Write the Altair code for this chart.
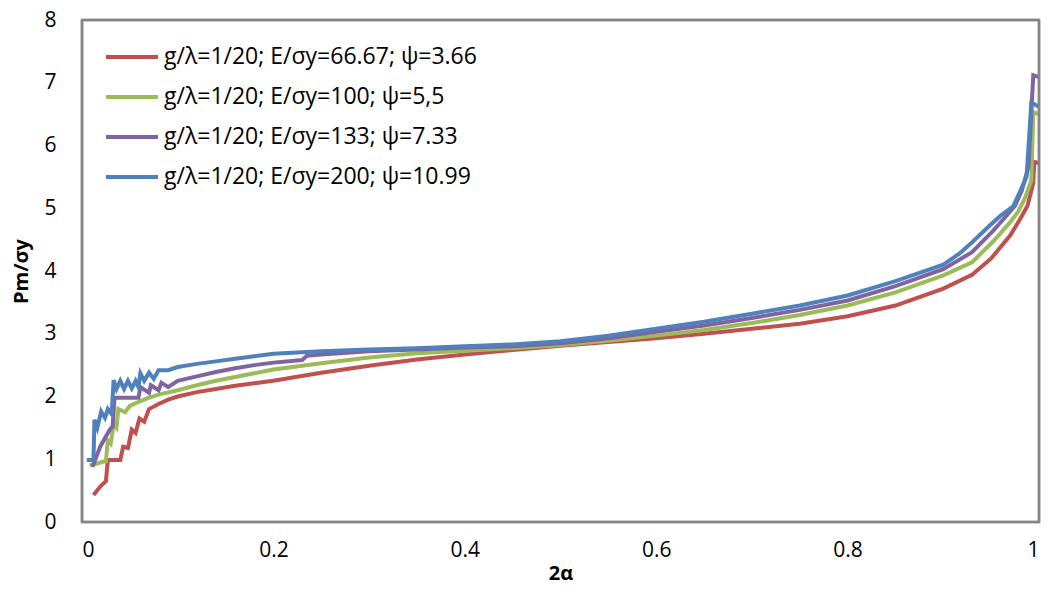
import altair as alt
import pandas as pd

labels = [
    "g/λ=1/20; E/σy=66.67; ψ=3.66",
    "g/λ=1/20; E/σy=100; ψ=5,5",
    "g/λ=1/20; E/σy=133; ψ=7.33",
    "g/λ=1/20; E/σy=200; ψ=10.99",
]
colors = ["#C0504D", "#9BBB59", "#8064A2", "#4F81BD"]

red_x = [0.012, 0.020, 0.025, 0.027, 0.040, 0.043, 0.048, 0.052, 0.056, 0.060, 0.065, 0.070,
         0.080, 0.090, 0.10, 0.12, 0.14, 0.16, 0.18, 0.20, 0.25, 0.30, 0.35, 0.40, 0.45, 0.50,
         0.55, 0.60, 0.65, 0.70, 0.75, 0.80, 0.85, 0.90, 0.93, 0.95, 0.97, 0.98, 0.988, 0.994,
         0.995, 1.0]
red_y = [0.43, 0.58, 0.65, 0.99, 0.99, 1.20, 1.18, 1.47, 1.42, 1.65, 1.60, 1.80,
         1.88, 1.95, 2.00, 2.07, 2.12, 2.17, 2.21, 2.25, 2.38, 2.49, 2.59, 2.67, 2.74, 2.81,
         2.87, 2.93, 3.00, 3.08, 3.16, 3.28, 3.45, 3.72, 3.94, 4.20, 4.57, 4.82, 5.04, 5.40,
         5.74, 5.72]

green_x = [0.008, 0.022, 0.025, 0.027, 0.030, 0.033, 0.036, 0.038, 0.045, 0.050, 0.060, 0.070,
           0.080, 0.10, 0.12, 0.14, 0.16, 0.18, 0.20, 0.25, 0.30, 0.35, 0.40, 0.45, 0.50, 0.55,
           0.60, 0.65, 0.70, 0.75, 0.80, 0.85, 0.90, 0.93, 0.952, 0.97, 0.978, 0.985, 0.992,
           0.994, 1.0]
green_y = [0.90, 0.96, 0.97, 1.30, 1.25, 1.55, 1.50, 1.80, 1.75, 1.85, 1.92, 1.98,
           2.03, 2.10, 2.18, 2.25, 2.31, 2.37, 2.43, 2.53, 2.62, 2.69, 2.73, 2.77, 2.82, 2.89,
           2.97, 3.06, 3.17, 3.30, 3.45, 3.66, 3.93, 4.14, 4.47, 4.78, 4.94, 5.15, 5.44,
           6.53, 6.50]

purple_x = [0.011, 0.019, 0.029, 0.032, 0.034, 0.059, 0.061, 0.070, 0.072, 0.080, 0.083, 0.090,
            0.10, 0.12, 0.14, 0.16, 0.18, 0.20, 0.23, 0.235, 0.25, 0.30, 0.35, 0.40, 0.45, 0.50,
            0.55, 0.60, 0.65, 0.70, 0.75, 0.80, 0.85, 0.90, 0.93, 0.952, 0.966, 0.975, 0.982,
            0.989, 0.994, 1.0]
purple_y = [0.88, 1.20, 1.47, 1.52, 1.98, 1.98, 2.15, 2.06, 2.18, 2.10, 2.22, 2.15,
            2.25, 2.32, 2.39, 2.45, 2.50, 2.54, 2.58, 2.65, 2.67, 2.72, 2.75, 2.78, 2.80, 2.85,
            2.93, 3.03, 3.13, 3.25, 3.38, 3.53, 3.76, 4.03, 4.30, 4.64, 4.88, 5.04, 5.28,
            5.66, 7.12, 7.09]

blue_x = [0.005, 0.012, 0.013, 0.016, 0.020, 0.024, 0.027, 0.031, 0.033, 0.036, 0.040, 0.044,
          0.048, 0.052, 0.056, 0.059, 0.061, 0.065, 0.070, 0.075, 0.080, 0.090, 0.10, 0.12,
          0.14, 0.16, 0.18, 0.20, 0.25, 0.30, 0.35, 0.40, 0.45, 0.50, 0.55, 0.60, 0.65, 0.70,
          0.75, 0.80, 0.85, 0.90, 0.917, 0.931, 0.946, 0.959, 0.973, 0.980, 0.987, 0.992, 1.0]
blue_y = [0.99, 0.99, 1.63, 1.50, 1.76, 1.66, 1.80, 1.72, 2.26, 2.12, 2.25, 2.12,
          2.25, 2.13, 2.25, 2.15, 2.37, 2.25, 2.38, 2.28, 2.42, 2.42, 2.47, 2.52,
          2.56, 2.60, 2.64, 2.68, 2.72, 2.75, 2.77, 2.80, 2.83, 2.88, 2.97, 3.08, 3.19, 3.32,
          3.45, 3.61, 3.84, 4.10, 4.28, 4.47, 4.69, 4.87, 5.03, 5.26, 5.50, 6.68, 6.62]

x_ticks = [0, 0.2, 0.4, 0.6, 0.8, 1]
y_ticks = [0, 1, 2, 3, 4, 5, 6, 7, 8]
x_range = [0, 1]
y_range = [0, 8]

rows = []
for lab, xs, ys in zip(labels, [red_x, green_x, purple_x, blue_x], [red_y, green_y, purple_y, blue_y]):
    for i, (xv, yv) in enumerate(zip(xs, ys)):
        rows.append({"x": xv, "y": yv, "series": lab, "order": i})
df = pd.DataFrame(rows)

FONT = "Open Sans"
FRAME = "#868686"

xscale = alt.Scale(domain=x_range, nice=False)
yscale = alt.Scale(domain=y_range, nice=False)

xaxis = alt.Axis(title="2α", values=x_ticks, format="~g", grid=False, ticks=False,
                 domain=False, labelFontSize=21, labelPadding=17, labelFont=FONT,
                 labelColor="#000", titleFont=FONT, titleFontSize=20, titleFontWeight="bold",
                 titleColor="#000", titlePadding=3)
yaxis = alt.Axis(title="Pm/σy", values=y_ticks, format="d", grid=False, ticks=False,
                 domain=False, labelFontSize=21, labelPadding=26, labelFont=FONT,
                 labelColor="#000", titleFont=FONT, titleFontSize=20, titleFontWeight="bold",
                 titleColor="#000", titlePadding=12)

lines = alt.Chart(df).mark_line(strokeWidth=4, strokeJoin="miter").encode(
    x=alt.X("x:Q", scale=xscale, axis=xaxis),
    y=alt.Y("y:Q", scale=yscale, axis=yaxis),
    color=alt.Color("series:N", scale=alt.Scale(domain=labels, range=colors),
                    legend=alt.Legend(title=None, orient="none", legendX=22, legendY=9,
                                      symbolType="stroke", symbolSize=2700, symbolStrokeWidth=4,
                                      labelFontSize=23, labelFont=FONT, labelColor="#000",
                                      rowPadding=-13, padding=0, labelOffset=4,
                                      labelLimit=700)),
    order="order:Q",
)

vframe = alt.Chart(pd.DataFrame({"xv": x_range})).mark_rule(
    color=FRAME, strokeWidth=2.5, opacity=1
).encode(x=alt.X("xv:Q", scale=xscale, axis=xaxis))

hframe = alt.Chart(pd.DataFrame({"yv": y_range})).mark_rule(
    color=FRAME, strokeWidth=2.5, opacity=1
).encode(y=alt.Y("yv:Q", scale=yscale, axis=yaxis))

chart = alt.layer(lines, vframe, hframe).properties(
    width=957, height=502,
    autosize=alt.AutoSizeParams(type="none"),
    padding={"left": 82, "top": 20, "right": 8, "bottom": 71},
).configure(background="white", view=alt.ViewConfig(stroke=FRAME, strokeWidth=2.5))

chart.save("out.html", embed_options={"renderer": "svg", "actions": False})
